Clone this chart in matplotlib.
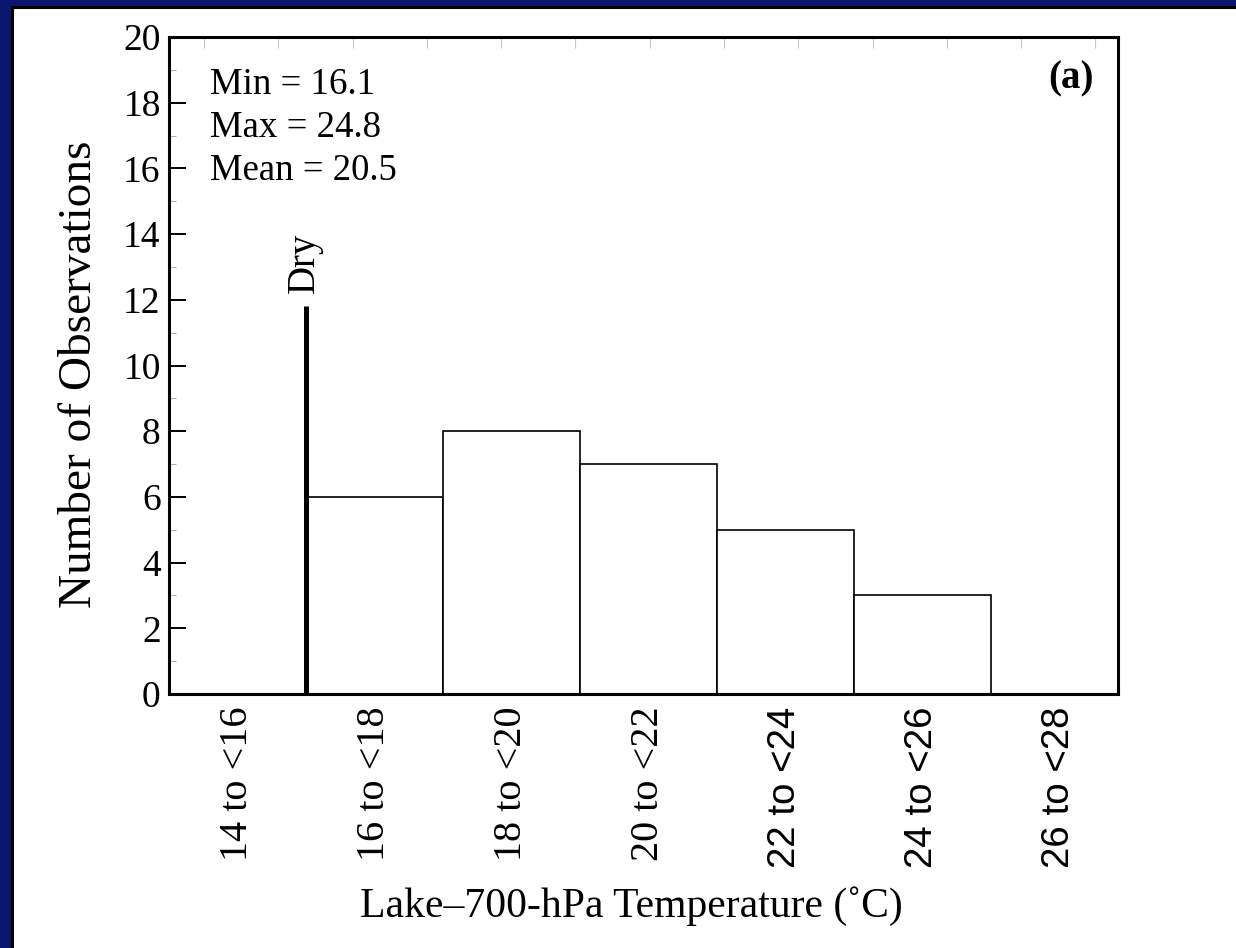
import numpy as np
import matplotlib
matplotlib.use("Agg")
from matplotlib import pyplot as plt
from matplotlib.patches import Rectangle

# histogram data
bin_left = [14, 16, 18, 20, 22, 24, 26]
counts = [0, 6, 8, 7, 5, 3, 0]
bin_labels = ['14 to <16', '16 to <18', '18 to <20', '20 to <22',
              '22 to <24', '24 to <26', '26 to <28']
label_fonts = ['serif', 'serif', 'serif', 'serif', 'sans', 'sans', 'sans']
stats = ['Min = 16.1', 'Max = 24.8', 'Mean = 20.5']
dry_x = 16
dry_top = 11.8

serif = 'Liberation Serif'
sans = 'Liberation Sans'

fig = plt.figure(figsize=(12.36, 9.48), dpi=100, facecolor='#0b166e')
# white slide panel with black edge
fig.patches.append(Rectangle((11.5 / 1236, -0.01), 1.02, 1 - 7 / 948 + 0.01,
                             transform=fig.transFigure, facecolor='white',
                             edgecolor='black', linewidth=2.2, zorder=-10))

ax = fig.add_axes([169 / 1236, 1 - 694 / 948, 949 / 1236, 657 / 948])

ax.bar(bin_left, counts, width=2, align='edge', facecolor='white',
       edgecolor='black', linewidth=1.2, zorder=2)
ax.vlines(dry_x, 0, dry_top, color='black', linewidth=3.6, zorder=3)
ax.text(dry_x - 0.02, 12.2, 'Dry', rotation=90, ha='center', va='bottom',
        fontsize=28, family=serif)

for i, s in enumerate(stats):
    ax.text(14.6, 18.26 - i * 1.3, s, ha='left', va='baseline',
            fontsize=26.5, family=serif)
ax.text(0.974, 0.922, '(a)', transform=ax.transAxes, ha='right',
        va='baseline', fontsize=28, family=serif, fontweight='bold')

ax.set_xlim(14, 27.86)
ax.set_ylim(0, 20)

centers = np.array(bin_left) + 1
ax.set_xticks(centers)
ax.set_xticklabels(bin_labels, rotation=90)
for lab, f in zip(ax.get_xticklabels(), label_fonts):
    if f == 'serif':
        lab.set_family(serif)
        lab.set_fontsize(29)
    else:
        lab.set_family(sans)
        lab.set_fontsize(27.7)
ax.tick_params(axis='x', which='major', length=0, pad=9)

ax.set_yticks(np.arange(0, 21, 2))
ax.set_yticks(np.arange(1, 20, 2), minor=True)
for lab in ax.get_yticklabels():
    lab.set_family(serif)
    lab.set_fontsize(27)
ax.tick_params(axis='y', which='major', direction='in', length=12,
               width=1.4, pad=6)
ax.tick_params(axis='y', which='minor', direction='in', length=5,
               width=0.8, color='#b0b0b0')

# faint marks along the top edge
ax.set_xticks(np.arange(14.51, 27.8, 1.085), minor=True)
ax.tick_params(axis='x', which='minor', bottom=False, top=True,
               direction='in', length=8, width=0.8, color='#c8c8c8')

for sp in ax.spines.values():
    sp.set_linewidth(2.2)

ax.set_ylabel('Number of Observations', fontsize=34, family=serif)
ax.yaxis.set_label_coords(-0.072, 0.486)
ax.set_xlabel('Lake\u2013700-hPa Temperature (\u02daC)', fontsize=30,
              family=serif)
ax.xaxis.set_label_coords(0.487, -0.292)

fig.savefig('out.png', dpi=100, facecolor=fig.get_facecolor())
